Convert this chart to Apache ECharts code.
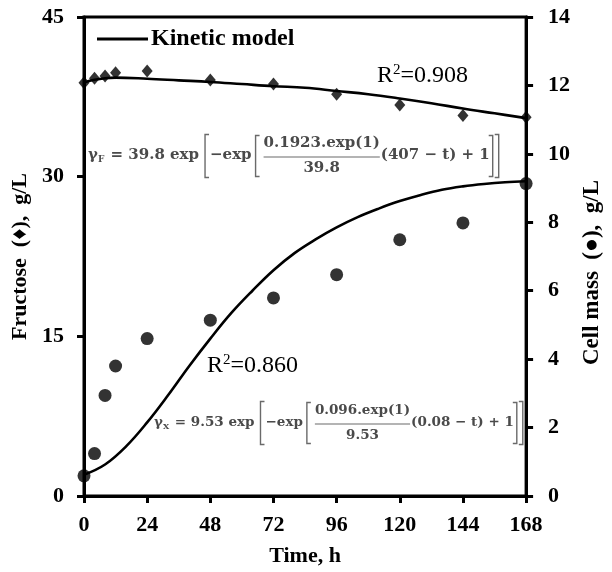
<!DOCTYPE html>
<html>
<head>
<meta charset="utf-8">
<script src="https://cdn.jsdelivr.net/npm/echarts@6/dist/echarts.min.js"></script>
<style>
  html, body { margin: 0; padding: 0; background: #fff; }
  #chart { width: 612px; height: 572px; }
</style>
</head>
<body>
<div id="chart"></div>
<script>
// Time axis ticks (h)
const timeTicks = [0, 24, 48, 72, 96, 120, 144, 168];

// Fructose concentration, g/L (left axis)
const fructoseTime = [0, 4, 8, 12, 24, 48, 72, 96, 120, 144, 168];
const fructoseObserved = [38.83, 39.24, 39.46, 39.77, 39.93, 39.08, 38.71, 37.74, 36.74, 35.74, 35.59];
const fructoseModelTime = [0, 4, 8, 12, 24, 36, 48, 60, 72, 84, 96, 108, 120, 132, 144, 156, 168];
const fructoseModel = [38.85, 39.1, 39.25, 39.3, 39.2, 39.05, 38.9, 38.7, 38.5, 38.35, 38.05, 37.75, 37.35, 36.9, 36.4, 35.95, 35.5];

// Cell mass, g/L (right axis)
const cellTime = [0, 4, 8, 12, 24, 48, 72, 96, 120, 144, 168];
const cellObserved = [0.59, 1.24, 2.94, 3.80, 4.60, 5.14, 5.79, 6.47, 7.49, 7.98, 9.13];
const cellModelTime = [0, 8, 16, 24, 32, 40, 48, 56, 64, 72, 80, 88, 96, 104, 112, 120, 128, 136, 144, 152, 160, 168];
const cellModel = [0.62, 0.92, 1.45, 2.15, 2.95, 3.8, 4.6, 5.35, 6.0, 6.6, 7.1, 7.5, 7.85, 8.15, 8.4, 8.62, 8.8, 8.95, 9.05, 9.12, 9.17, 9.2];

// Left axis ticks (fructose) and right axis ticks (cell mass)
const fructoseTicks = [0, 15, 30, 45];
const cellTicks = [0, 2, 4, 6, 8, 10, 12, 14];

const pair = (xs, ys) => xs.map((x, i) => [x, ys[i]]);

const SERIF = '"Liberation Serif", "Times New Roman", serif';
const EQ_FONT = '"DejaVu Serif", serif';
const measureCtx = document.createElement('canvas').getContext('2d');
function textWidth(s, size, weight, family) {
  measureCtx.font = (weight || 'bold') + ' ' + size + 'px ' + (family || SERIF);
  return measureCtx.measureText(s).width;
}

function textEl(s, x, y, size, opts) {
  opts = opts || {};
  return {
    type: 'text', x: x, y: y, z: 10,
    style: {
      text: s,
      font: (opts.weight || 'bold') + ' ' + size + 'px ' + (opts.family || SERIF),
      fill: opts.color || '#4a4a4a',
      textAlign: opts.align || 'left', align: opts.align || 'left',
      textVerticalAlign: 'middle', verticalAlign: 'middle'
    }
  };
}

function bracketEl(x, y, open, h) {
  const d = open ? 4 : -4;
  return {
    type: 'polyline', z: 10,
    shape: { points: [[x + d, y - h / 2], [x, y - h / 2], [x, y + h / 2], [x + d, y + h / 2]] },
    style: { stroke: '#6a6a6a', lineWidth: 1.4, fill: null }
  };
}

// Gompertz-type model equation laid out piece by piece
function equation(x, y, sub, lead, num, den, tail, fs) {
  const els = [];
  const o = { family: EQ_FONT };
  const ow = (s, size) => textWidth(s, size, 'bold', EQ_FONT);
  const subSize = Math.round(fs * 0.62);
  let cx = x;
  els.push(textEl('\u03b3', cx, y, fs, o));
  cx += ow('\u03b3', fs);
  els.push(textEl(sub, cx, y + 5, subSize, o));
  cx += ow(sub, subSize) + 1;
  els.push(textEl(lead, cx, y, fs, o));
  cx += ow(lead, fs) + 6;
  els.push(bracketEl(cx, y + 1, true, 43));
  cx += 5;
  els.push(textEl('\u2212exp', cx, y, fs, o));
  cx += ow('\u2212exp', fs) + 4;
  els.push(bracketEl(cx, y + 1, true, 41));
  cx += 8;
  const fw = Math.max(ow(num, fs), ow(den, fs));
  els.push(textEl(num, cx + fw / 2, y - 12, fs, { family: EQ_FONT, align: 'center' }));
  els.push({ type: 'line', z: 10, shape: { x1: cx, y1: y + 2, x2: cx + fw, y2: y + 2 }, style: { stroke: '#6a6a6a', lineWidth: 1.2 } });
  els.push(textEl(den, cx + fw / 2, y + 13, fs, { family: EQ_FONT, align: 'center' }));
  cx += fw + 1;
  els.push(textEl(tail, cx, y, fs, o));
  cx += ow(tail, fs) + 3;
  els.push(bracketEl(cx, y + 1, false, 41));
  cx += 6;
  els.push(bracketEl(cx, y + 1, false, 43));
  return els;
}

// R² annotation with a raised exponent
function rSquared(x, y, value, fs) {
  const els = [];
  const o = { weight: 'normal', color: '#000' };
  const sup = Math.round(fs * 0.62);
  let cx = x;
  els.push(textEl('R', cx, y, fs, o));
  cx += textWidth('R', fs, 'normal');
  els.push(textEl('2', cx, y - 6, sup, o));
  cx += textWidth('2', sup, 'normal');
  els.push(textEl('=' + value, cx, y, fs, o));
  return els;
}

const axisFont = { fontFamily: SERIF, fontWeight: 'bold', fontSize: 22, color: '#000' };
const nameFont = { fontFamily: SERIF, fontWeight: 'bold', fontSize: 22, color: '#000' };
const axisLine = { show: true, onZero: false, lineStyle: { color: '#000', width: 3 } };
const axisTick = { show: true, inside: false, length: 7, lineStyle: { color: '#000', width: 3 } };

const chart = echarts.init(document.getElementById('chart'), null, { renderer: 'canvas' });

chart.setOption({
  animation: false,
  backgroundColor: '#fff',
  grid: { left: 84, right: 70, top: 17, bottom: 74, show: true, borderColor: '#000', borderWidth: 3 },
  legend: {
    data: [{ name: 'Kinetic model', icon: 'rect' }],
    left: 92, top: 22,
    itemWidth: 51, itemHeight: 3, itemGap: 0,
    itemStyle: { color: '#000' },
    textStyle: { fontFamily: SERIF, fontWeight: 'bold', fontSize: 24, color: '#000', padding: [4, 0, 0, -2] }
  },
  xAxis: {
    type: 'value',
    min: timeTicks[0], max: timeTicks[timeTicks.length - 1],
    interval: timeTicks[1] - timeTicks[0],
    name: 'Time, h', nameLocation: 'middle', nameGap: 49, nameTextStyle: nameFont,
    axisLine: axisLine, axisTick: axisTick,
    axisLabel: Object.assign({ margin: 18 }, axisFont),
    splitLine: { show: false }
  },
  yAxis: [
    {
      type: 'value', position: 'left',
      min: fructoseTicks[0], max: fructoseTicks[fructoseTicks.length - 1],
      interval: fructoseTicks[1] - fructoseTicks[0],
      name: 'Fructose  (\u2666),  g/L', nameLocation: 'middle', nameGap: 53, nameRotate: 90,
      nameTextStyle: nameFont,
      axisLine: axisLine, axisTick: axisTick,
      axisLabel: Object.assign({ margin: 20 }, axisFont),
      splitLine: { show: false }
    },
    {
      type: 'value', position: 'right',
      min: cellTicks[0], max: cellTicks[cellTicks.length - 1],
      interval: cellTicks[1] - cellTicks[0],
      name: 'Cell mass  (\u25cf),  g/L', nameLocation: 'middle', nameGap: 49, nameRotate: 90,
      nameTextStyle: Object.assign({}, nameFont, { fontSize: 23, padding: [0, 32, 0, 0] }),
      axisLine: axisLine, axisTick: axisTick,
      axisLabel: Object.assign({ margin: 22 }, axisFont),
      splitLine: { show: false }
    }
  ],
  series: [
    {
      name: 'Kinetic model', type: 'line', yAxisIndex: 0, smooth: 0.4,
      symbol: 'none', data: pair(fructoseModelTime, fructoseModel),
      lineStyle: { color: '#000', width: 2.6 }, itemStyle: { color: '#000' }, z: 3
    },
    {
      name: 'Fructose', type: 'scatter', yAxisIndex: 0,
      symbol: 'diamond', symbolSize: [11, 13],
      data: pair(fructoseTime, fructoseObserved),
      itemStyle: { color: '#000' }, z: 4
    },
    {
      name: 'Kinetic model', type: 'line', yAxisIndex: 1, smooth: 0.4,
      symbol: 'none', data: pair(cellModelTime, cellModel),
      lineStyle: { color: '#000', width: 2.6 }, itemStyle: { color: '#000' }, z: 3
    },
    {
      name: 'Cell mass', type: 'scatter', yAxisIndex: 1,
      symbol: 'circle', symbolSize: 13,
      data: pair(cellTime, cellObserved),
      itemStyle: { color: '#000' }, z: 4
    }
  ],
  graphic: [].concat(
    rSquared(377, 76, '0.908', 24),
    rSquared(207, 366, '0.860', 24),
    equation(88, 155, 'F', ' = 39.8 exp', '0.1923.exp(1)', '39.8', '(407 \u2212 t) + 1', 15),
    equation(154, 422, 'X', ' = 9.53 exp', '0.096.exp(1)', '9.53', '(0.08 \u2212 t) + 1', 13.5)
  )
});
</script>
</body>
</html>
